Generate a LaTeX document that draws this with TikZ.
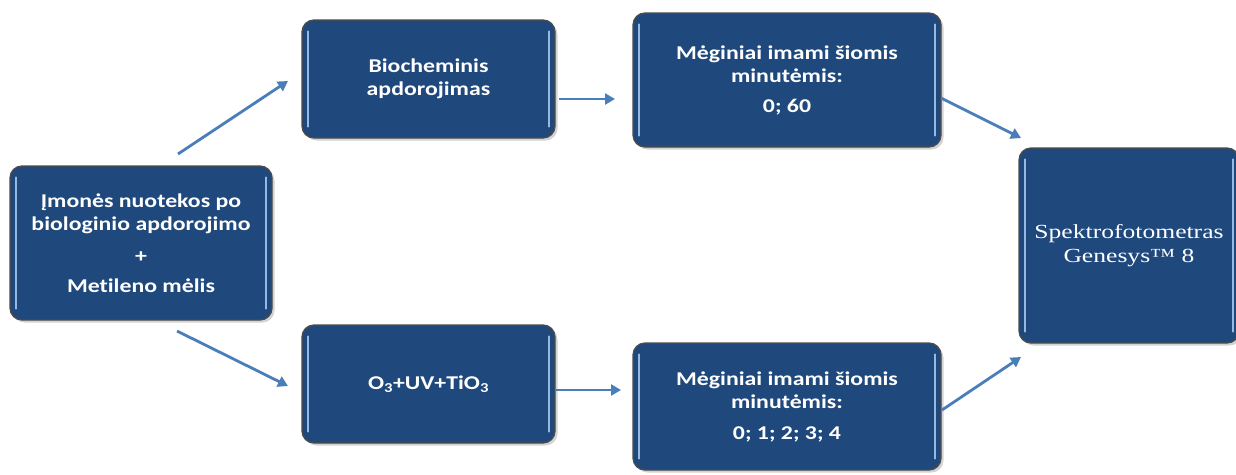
\documentclass[tikz,border=0pt]{standalone}
\usepackage{fontspec}
\setmainfont{Carlito}[FakeStretch=1.22,Ligatures=NoCommon]
\newfontfamily\serifrm{Liberation Serif}[FakeStretch=1.28]
\usetikzlibrary{shadows,arrows.meta}
\definecolor{boxblue}{RGB}{31,72,124}
\definecolor{arrowblue}{RGB}{74,126,187}
\definecolor{hilite}{RGB}{150,185,225}
\begin{document}
\begin{tikzpicture}[x=1pt,y=-1pt,
  bx/.style={draw=black!70, line width=1.3pt, fill=boxblue, rounded corners=12pt,
    text=white, font=\bfseries\fontsize{19.5}{23}\selectfont, align=center, inner sep=0pt,
    drop shadow={opacity=0.35, shadow xshift=2.5pt, shadow yshift=-2.5pt}},
  hl/.style={draw=hilite, line width=2pt, line cap=round},
  arr/.style={draw=arrowblue, line width=2.8pt, -{Triangle[length=10pt,width=11pt]}}
]
\useasboundingbox (0,0) rectangle (1236,474);

\node[bx, minimum width=262pt, minimum height=154pt] (src) at (141,243)
  {Įmonės nuotekos po\\biologinio apdorojimo\\[9pt]+\\[7pt]Metileno mėlis};
\node[bx, minimum width=253pt, minimum height=118pt] (bio) at (428.5,79)
  {Biocheminis\\apdorojimas};
\node[bx, minimum width=253pt, minimum height=118pt] (oz) at (428.5,384)
  {O\textsubscript{3}+UV+TiO\textsubscript{3}};
\node[bx, minimum width=308pt, minimum height=134pt] (mt) at (787,80)
  {Mėginiai imami šiomis\\minutėmis:\\[7pt]0; 60};
\node[bx, minimum width=308pt, minimum height=127pt] (mb) at (787,406.5)
  {Mėginiai imami šiomis\\minutėmis:\\[8pt]0; 1; 2; 3; 4};
\node[bx, minimum width=220pt, minimum height=195pt, font=\serifrm\fontsize{20}{24}\selectfont] (sp) at (1129,245.5)
  {Spektrofotometras\\Genesys™ 8};

\foreach \n in {src,bio,oz,mt,mb,sp}{
  \draw[hl] ([xshift=7pt,yshift=-12pt]\n.north west) -- ([xshift=7pt,yshift=12pt]\n.south west);
  \draw[hl] ([xshift=-7pt,yshift=-12pt]\n.north east) -- ([xshift=-7pt,yshift=12pt]\n.south east);
}

\coordinate (a1s) at (178,154); \coordinate (a1e) at (288,81);
\coordinate (a2s) at (177,331); \coordinate (a2e) at (288,386);
\coordinate (a3s) at (559,99);  \coordinate (a3e) at (615,99);
\coordinate (a4s) at (555,390); \coordinate (a4e) at (621,390);
\coordinate (a5s) at (941,98);  \coordinate (a5e) at (1021,138);
\coordinate (a6s) at (942,410); \coordinate (a6e) at (1021,357);
\draw[arr] (a1s) -- (a1e);
\draw[arr] (a2s) -- (a2e);
\draw[arr] (a3s) -- (a3e);
\draw[arr] (a4s) -- (a4e);
\draw[arr] (a5s) -- (a5e);
\draw[arr] (a6s) -- (a6e);
\end{tikzpicture}
\end{document}
